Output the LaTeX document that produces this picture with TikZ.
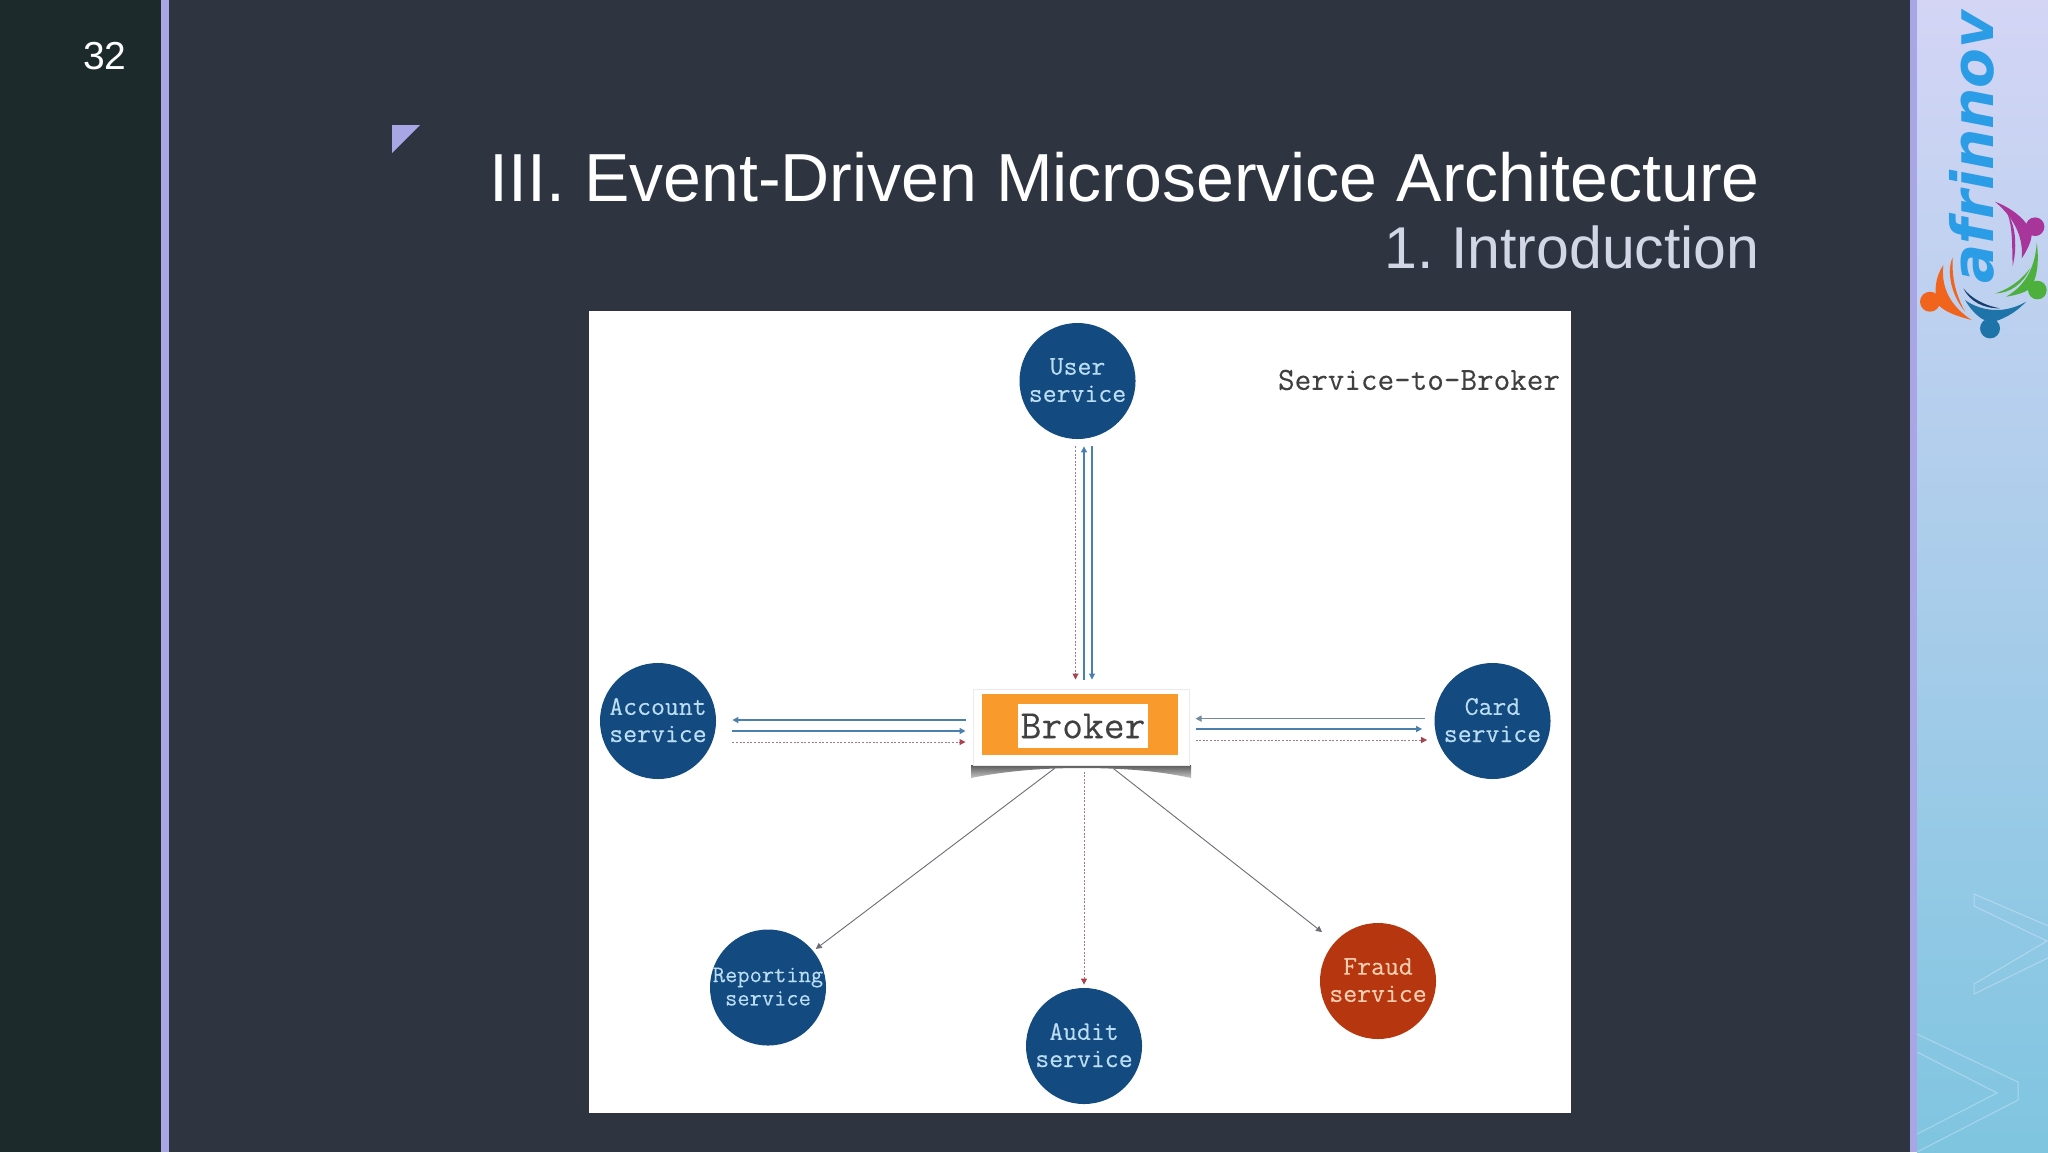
\documentclass[tikz,border=0pt]{standalone}
\usepackage{fontspec}
\setmainfont{Liberation Sans}
\newfontfamily\logofont{DejaVu Sans}
\newfontfamily\svcmono[FakeBold=0.25]{Latin Modern Mono}
\usetikzlibrary{arrows.meta}
\definecolor{slidebg}{HTML}{2E3440}
\definecolor{leftbg}{HTML}{1D2A2C}
\definecolor{accent}{HTML}{A9A6E6}
\definecolor{subt}{HTML}{D3D6E4}
\definecolor{svcblue}{HTML}{134A80}
\definecolor{svcred}{HTML}{B5360F}
\definecolor{svctext}{HTML}{BBDDF2}
\definecolor{frtext}{HTML}{F9CDB0}
\definecolor{brkorange}{HTML}{F99B2C}
\definecolor{lineblue}{HTML}{4A7FAE}
\definecolor{lineslate}{HTML}{728A9C}
\definecolor{linered}{HTML}{A8434F}
\definecolor{dotline}{HTML}{A8787E}
\definecolor{linegray}{HTML}{6D6D75}
\definecolor{ptop}{HTML}{D4D5F5}
\definecolor{pmid}{HTML}{B9D3F0}
\definecolor{pbot}{HTML}{7FC5E0}
\definecolor{logoblue}{HTML}{2B9CE6}
\definecolor{fpurple}{HTML}{A8359A}
\definecolor{fgreen}{HTML}{4DB03C}
\definecolor{fblue}{HTML}{1E74A8}
\definecolor{fnavy}{HTML}{143F70}
\definecolor{forange}{HTML}{F0641E}
\tikzset{
  svc/.style={circle,fill=svcblue,text=svctext,minimum size=58pt,inner sep=0pt,align=center,text depth=1pt,
    font=\svcmono\fontsize{13.5}{13.6}\selectfont},
  tipa/.style={-{Triangle[length=3pt,width=3pt]}},
  solidblue/.style={tipa,draw=lineblue,line width=0.75pt},
  dotred/.style={-{Triangle[length=3pt,width=3pt,color=linered]},draw=dotline,line width=0.5pt,dash pattern=on 1pt off 0.8pt},
  solidgray/.style={tipa,draw=linegray,line width=0.45pt},
  chev/.style={draw=white,draw opacity=.3,line width=.5pt},
}
\newcommand{\svctwo}[2]{\makebox[0pt]{#1}\\\makebox[0pt]{#2}}
\begin{document}
\begin{tikzpicture}[x=0.5pt,y=-0.5pt]
\useasboundingbox (0,0) rectangle (2048,1152);
% slide background
\fill[slidebg] (0,0) rectangle (2048,1152);
\fill[leftbg] (0,0) rectangle (161,1152);
\fill[accent] (161,0) rectangle (169,1152);
\fill[accent] (1910,0) rectangle (1917,1152);
\shade[top color=ptop,middle color=pmid,bottom color=pbot] (1917,0) rectangle (2048,1152);
% faint chevrons
\begin{scope}
\clip (1917,0) rectangle (2048,1152);
\draw[chev] (1974,894) -- (2060,931) (1974,894) -- (1974,906) -- (2047,941) -- (1974,984) -- (1974,994) -- (2060,952);
\draw[chev] (1917,1034) -- (2018,1082) -- (2018,1100) -- (1917,1152);
\draw[chev] (1917,1052) -- (1997,1093) -- (1917,1134);
\end{scope}
% logo
\node[rotate=90,text=logoblue,font=\logofont\bfseries\itshape\fontsize{29}{29}\selectfont,inner sep=0pt,anchor=center] (logo) at (1972,147) {afrinnov};
\begin{scope}[shift={(1900,0)},x=0.1667pt,y=-0.1667pt]
\fill[fpurple] (405,680) circle[radius=28];
\fill[fpurple] (285,605) .. controls (350,630) and (385,670) .. (395,700) .. controls (395,720) and (385,745) .. (365,775) .. controls (370,720) and (350,660) .. (285,605) -- cycle;
\fill[fpurple] (322,640) .. controls (350,680) and (350,750) .. (338,797) .. controls (335,740) and (340,690) .. (322,640) -- cycle;
\fill[fgreen] (412,870) circle[radius=28];
\fill[fgreen] (410,728) .. controls (420,800) and (405,840) .. (395,860) .. controls (385,875) and (350,885) .. (318,890) .. controls (370,860) and (405,810) .. (410,728) -- cycle;
\fill[fgreen] (390,805) .. controls (360,845) and (320,870) .. (285,880) .. controls (330,880) and (370,850) .. (390,805) -- cycle;
\fill[fblue] (270,985) circle[radius=30];
\fill[fblue] (378,905) .. controls (340,945) and (300,960) .. (280,965) .. controls (250,970) and (215,935) .. (195,900) .. controls (230,925) and (300,950) .. (378,905) -- cycle;
\fill[fnavy] (190,865) .. controls (215,895) and (250,915) .. (300,925) .. controls (250,925) and (210,905) .. (190,865) -- cycle;
\fill[forange] (90,905) circle[radius=30];
\fill[forange] (130,795) .. controls (105,830) and (100,880) .. (115,915) .. controls (140,940) and (180,950) .. (215,960) .. controls (170,930) and (120,880) .. (130,795) -- cycle;
\fill[forange] (158,772) .. controls (140,810) and (150,880) .. (195,935) .. controls (165,880) and (155,830) .. (158,772) -- cycle;
\end{scope}
% page number and titles
\node[text=white,font=\fontsize{19.5}{20}\selectfont,inner sep=0pt] (pagenum) at (105,56) {32};
\fill[accent] (392,125) -- (420,125) -- (392,153) -- cycle;
\node[anchor=base east,text=white,font=\fontsize{34}{34}\selectfont,inner sep=0pt] (title) at (1760,201) {III. Event-Driven Microservice Architecture};
\node[anchor=base east,text=subt,font=\fontsize{29.5}{29.5}\selectfont,inner sep=0pt] (subtitle) at (1760,268) {1.\hspace{-0.07em} Introduction};
% picture panel
\fill[white] (589,311) rectangle (1571,1113);
\node[anchor=center,text=black!75,font=\svcmono\fontsize{16.1}{16}\selectfont,inner sep=0pt] (heading) at (1419,380) {Service-to-Broker};
% broker
\shade[top color=black!65,bottom color=black!22] (971,765) -- (971,778) .. controls (1010,770) and (1050,768) .. (1081,768) .. controls (1115,768) and (1155,770) .. (1191,778) -- (1191,765) -- cycle;
\node[fill=white,draw=black!8,line width=0.5pt,minimum width=108pt,minimum height=38pt,inner sep=0pt] (card) at (1081,727) {};
\node[fill=brkorange,minimum width=98pt,minimum height=30.5pt,inner sep=0pt] (orangebox) at (1080,724.5) {};
\node[fill=white,text=black!75,minimum width=65pt,minimum height=22pt,inner sep=0pt,font=\svcmono\fontsize{20.2}{20}\selectfont] (broker) at (1083,726) {Broker};
% services
\node[svc] (user) at (1077.5,381) {\svctwo{User}{service}};
\node[svc] (account) at (658,721) {\svctwo{Account}{service}};
\node[svc] (cardsvc) at (1492.5,721) {\svctwo{Card}{service}};
\node[svc,font=\svcmono\fontsize{11.9}{11.7}\selectfont] (reporting) at (768,987.5) {\svctwo{Reporting}{service}};
\node[svc] (audit) at (1084,1046) {\svctwo{Audit}{service}};
\node[svc,fill=svcred,text=frtext] (fraud) at (1378,981) {\svctwo{Fraud}{service}};
% connectors user - broker
\draw[dotred,shorten <=3.5pt,shorten >=4.5pt] ([xshift=-1pt]user.south) -- ([xshift=-1pt]user.south|-card.north);
\draw[solidblue,line width=.55pt,shorten <=4.5pt,shorten >=3.5pt] ([xshift=3.25pt]user.south|-card.north) -- ([xshift=3.25pt]user.south);
\draw[solidblue,line width=.55pt,shorten <=3.5pt,shorten >=4.5pt] ([xshift=7.25pt]user.south) -- ([xshift=7.25pt]user.south|-card.north);
% account - broker
\draw[solidblue,shorten <=3.5pt,shorten >=8pt] ([yshift=0.5pt]card.west|-account.east) -- ([yshift=0.5pt]account.east);
\draw[solidblue,shorten <=8pt,shorten >=3.5pt] ([yshift=-5pt]account.east) -- ([yshift=-5pt]card.west|-account.east);
\draw[dotred,shorten <=8pt,shorten >=3.5pt] ([yshift=-10.5pt]account.east) -- ([yshift=-10.5pt]card.west|-account.east);
% card service - broker
\draw[solidblue,draw=lineslate,shorten <=4.5pt,shorten >=3pt] ([yshift=1.2pt]cardsvc.west) -- ([yshift=1.2pt]card.east|-cardsvc.west);
\draw[solidblue,shorten <=3pt,shorten >=6pt] ([yshift=-4pt]card.east|-cardsvc.west) -- ([yshift=-4pt]cardsvc.west);
\draw[dotred,shorten <=3pt,shorten >=3.5pt] ([yshift=-9.5pt]card.east|-cardsvc.west) -- ([yshift=-9.5pt]cardsvc.west);
% broadcast
\draw[solidgray,shorten <=4pt,shorten >=1.5pt] ([xshift=-10pt,yshift=1pt]card.south) -- (reporting.39);
\draw[dotred,shorten <=3pt,shorten >=1.5pt] (audit.north|-card.south) -- (audit.north);
\draw[solidgray,shorten <=4pt,shorten >=8pt] ([xshift=13pt,yshift=1pt]card.south) -- (fraud.138);
\end{tikzpicture}
\end{document}
